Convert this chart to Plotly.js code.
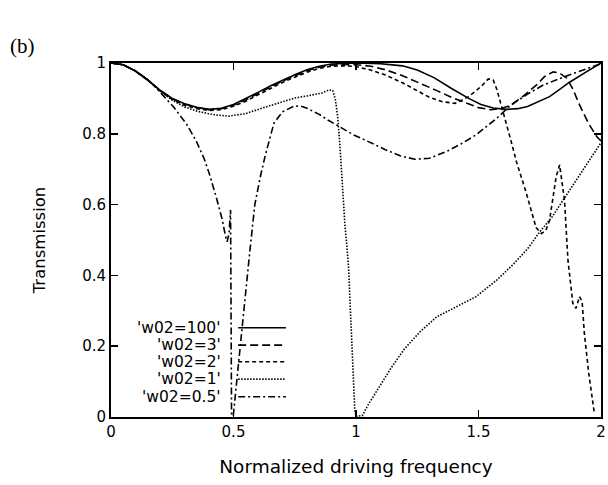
<!DOCTYPE html>
<html>
<head>
<meta charset="utf-8">
<script src="https://cdn.plot.ly/plotly-3.0.1.min.js"></script>
<style>
  html, body { margin: 0; padding: 0; background: #ffffff; }
  #chart { width: 608px; height: 485px; }
</style>
</head>
<body>
<div id="chart"></div>
<script>
// Transmission vs normalized driving frequency for several w02 values.
const seriesNames = ["'w02=100'", "'w02=3'", "'w02=2'", "'w02=1'", "'w02=0.5'"];

const freq100 = [0, 0.05, 0.1, 0.15, 0.2, 0.25, 0.3, 0.35, 0.4, 0.45, 0.5, 0.55, 0.6, 0.65, 0.7, 0.75, 0.8, 0.85, 0.9, 0.95, 1.0, 1.1, 1.19, 1.25, 1.32, 1.39, 1.46, 1.51, 1.56, 1.615, 1.66, 1.7, 1.75, 1.79, 1.83, 1.87, 1.94, 2.0];
const trans100 = [1.0, 0.995, 0.977, 0.952, 0.923, 0.9, 0.885, 0.875, 0.869, 0.872, 0.883, 0.899, 0.917, 0.935, 0.952, 0.967, 0.981, 0.991, 0.997, 0.999, 1.0, 0.998, 0.992, 0.98, 0.958, 0.928, 0.9, 0.883, 0.873, 0.869, 0.871, 0.877, 0.892, 0.905, 0.925, 0.945, 0.975, 1.0];

const freq3 = [0, 0.05, 0.1, 0.15, 0.2, 0.25, 0.3, 0.35, 0.4, 0.45, 0.5, 0.55, 0.6, 0.65, 0.7, 0.75, 0.8, 0.85, 0.9, 0.95, 1.0, 1.06, 1.12, 1.19, 1.26, 1.33, 1.39, 1.45, 1.5, 1.55, 1.59, 1.63, 1.68, 1.74, 1.77, 1.805, 1.83, 1.86, 1.885, 1.91, 1.95, 1.985, 2.0];
const trans3 = [1.0, 0.995, 0.977, 0.952, 0.923, 0.899, 0.884, 0.874, 0.868, 0.871, 0.881, 0.896, 0.914, 0.932, 0.949, 0.964, 0.978, 0.988, 0.994, 0.996, 0.995, 0.991, 0.981, 0.964, 0.944, 0.922, 0.903, 0.886, 0.874, 0.868, 0.871, 0.88, 0.905, 0.94, 0.962, 0.975, 0.972, 0.957, 0.927, 0.885, 0.828, 0.79, 0.78];

const freq2 = [0, 0.05, 0.1, 0.15, 0.2, 0.25, 0.3, 0.35, 0.4, 0.45, 0.5, 0.55, 0.6, 0.65, 0.7, 0.75, 0.8, 0.85, 0.9, 0.95, 1.0, 1.06, 1.12, 1.19, 1.256, 1.3, 1.35, 1.405, 1.46, 1.51, 1.54, 1.56, 1.575, 1.6, 1.63, 1.655, 1.695, 1.735, 1.757, 1.775, 1.79, 1.817, 1.831, 1.851, 1.865, 1.885, 1.898, 1.912, 1.923, 1.932, 1.95, 1.973];
const trans2 = [1.0, 0.995, 0.977, 0.951, 0.922, 0.897, 0.881, 0.871, 0.866, 0.868, 0.878, 0.892, 0.91, 0.928, 0.945, 0.96, 0.974, 0.985, 0.991, 0.992, 0.99, 0.98, 0.966, 0.944, 0.919, 0.903, 0.891, 0.886, 0.905, 0.933, 0.955, 0.952, 0.925, 0.865, 0.787, 0.721, 0.633, 0.535, 0.518, 0.527, 0.556, 0.679, 0.712, 0.613, 0.443, 0.321, 0.307, 0.34, 0.326, 0.237, 0.123, 0.01];

const freq1 = [0, 0.05, 0.1, 0.15, 0.2, 0.25, 0.3, 0.35, 0.39, 0.43, 0.48, 0.55, 0.61, 0.68, 0.75, 0.8, 0.83, 0.86, 0.89, 0.905, 0.915, 0.925, 0.935, 0.945, 0.955, 0.963, 0.97, 0.976, 0.982, 0.989, 0.995, 1.0, 1.026, 1.05, 1.087, 1.14, 1.195, 1.26, 1.33, 1.41, 1.49, 1.575, 1.64, 1.7, 1.75, 1.8, 1.845, 1.9, 1.953, 2.0];
const trans1 = [1.0, 0.995, 0.977, 0.952, 0.921, 0.895, 0.876, 0.864, 0.858, 0.853, 0.85, 0.857, 0.871, 0.887, 0.901, 0.907, 0.91, 0.915, 0.924, 0.922, 0.9, 0.85, 0.76, 0.64, 0.54, 0.48, 0.42, 0.32, 0.21, 0.09, 0.02, 0.002, 0.004, 0.035, 0.076, 0.135, 0.19, 0.24, 0.283, 0.312, 0.34, 0.387, 0.43, 0.475, 0.523, 0.565, 0.613, 0.67, 0.726, 0.775];

const freq05 = [0, 0.05, 0.1, 0.15, 0.173, 0.21, 0.254, 0.308, 0.349, 0.38, 0.4, 0.43, 0.455, 0.466, 0.474, 0.482, 0.488, 0.49, 0.492, 0.499, 0.52, 0.545, 0.567, 0.587, 0.61, 0.63, 0.665, 0.7, 0.75, 0.78, 0.8, 0.85, 0.885, 0.93, 0.99, 1.06, 1.12, 1.18, 1.24, 1.3, 1.37, 1.43, 1.49, 1.575, 1.63, 1.7, 1.765, 1.87, 1.965, 2.0];
const trans05 = [1.0, 0.995, 0.978, 0.953, 0.938, 0.91, 0.877, 0.828, 0.778, 0.73, 0.69, 0.62, 0.555, 0.515, 0.495, 0.52, 0.585, 0.3, 0.005, 0.003, 0.14, 0.32, 0.47, 0.6, 0.68, 0.74, 0.83, 0.862, 0.879, 0.877, 0.872, 0.855, 0.839, 0.82, 0.797, 0.775, 0.755, 0.738, 0.728, 0.731, 0.75, 0.772, 0.797, 0.844, 0.88, 0.912, 0.938, 0.966, 0.99, 0.998];

const xTickVals = [0, 0.5, 1, 1.5, 2];
const xTickText = ['0', '0.5', '1', '1.5', '2'];
const yTickVals = [0, 0.2, 0.4, 0.6, 0.8, 1];
const yTickText = ['0', '0.2', '0.4', '0.6', '0.8', '1'];

const dashes = ['solid', '8px,4px', '4px,3px', '1.5px,1.5px', '7px,3px,2px,3px'];
const xs = [freq100, freq3, freq2, freq1, freq05];
const ys = [trans100, trans3, trans2, trans1, trans05];

const traces = seriesNames.map((name, i) => ({
  type: 'scatter',
  mode: 'lines',
  name: name,
  x: xs[i],
  y: ys[i],
  line: { color: '#000', width: 1.6, dash: dashes[i] },
  showlegend: false,
  hoverinfo: 'skip'
}));

// Key in the gnuplot style: label on the left, line sample on the right.
const keyTextX = 0.458, keyLineX0 = 0.519, keyLineX1 = 0.714;
const keyRows = [0.252, 0.203, 0.156, 0.107, 0.057];
const shapes = seriesNames.map((n, i) => ({
  type: 'line', xref: 'x', yref: 'y', layer: 'above',
  x0: keyLineX0, x1: keyLineX1, y0: keyRows[i], y1: keyRows[i],
  line: { color: '#000', width: 1.6, dash: dashes[i] }
}));
const annotations = seriesNames.map((n, i) => ({
  xref: 'x', yref: 'y', x: keyTextX, y: keyRows[i],
  text: n, showarrow: false, xanchor: 'right', yanchor: 'middle',
  font: { family: 'DejaVu Sans', size: 15.5, color: '#000' }
}));
annotations.push({
  xref: 'paper', yref: 'paper', x: -0.211, y: 1.048,
  text: '(b)', showarrow: false, xanchor: 'left', yanchor: 'middle',
  font: { family: 'Liberation Serif', size: 21, color: '#000' }
});

const axisCommon = {
  ticks: 'inside', ticklen: 7, tickwidth: 1.6, tickcolor: '#000',
  showline: true, linewidth: 2, linecolor: '#000', mirror: 'ticks',
  showgrid: false, zeroline: false, ticklabeloverflow: 'allow',
  tickfont: { family: 'DejaVu Sans', size: 15, color: '#000' }
};

const layout = {
  width: 608, height: 485,
  margin: { l: 111, r: 7, t: 63, b: 68 },
  paper_bgcolor: '#fff', plot_bgcolor: '#fff',
  xaxis: Object.assign({}, axisCommon, {
    range: [0, 2], tickmode: 'array', tickvals: xTickVals, ticktext: xTickText,
    title: { text: 'Normalized driving frequency', font: { family: 'DejaVu Sans', size: 18.5, color: '#000' }, standoff: 20 }
  }),
  yaxis: Object.assign({}, axisCommon, {
    range: [0, 1], tickmode: 'array', tickvals: yTickVals, ticktext: yTickText,
    title: { text: 'Transmission', font: { family: 'DejaVu Sans', size: 16.5, color: '#000' }, standoff: 32 }
  }),
  shapes: shapes,
  annotations: annotations
};

Plotly.newPlot('chart', traces, layout, { staticPlot: true, displayModeBar: false });
</script>
</body>
</html>
